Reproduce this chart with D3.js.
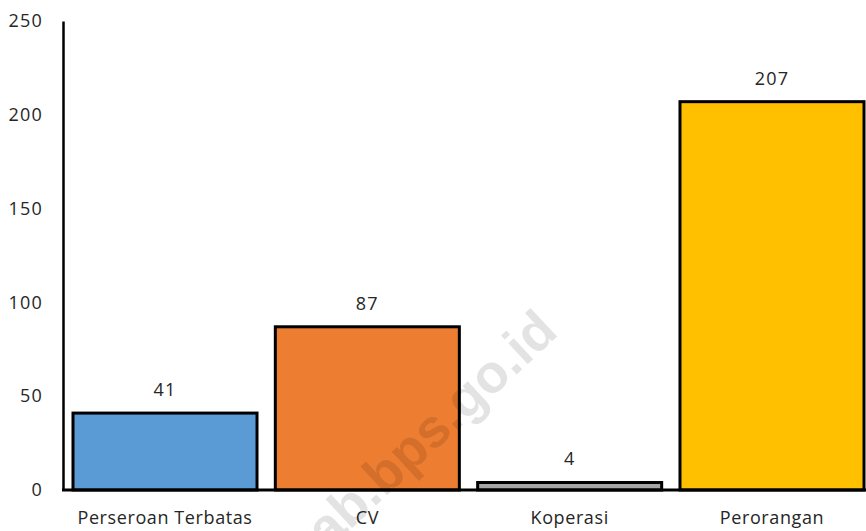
<!DOCTYPE html>
<html><head><meta charset="utf-8">
<script src="https://cdn.jsdelivr.net/npm/d3@7"></script>
<style>body{margin:0;background:#fff}svg{display:block}text{font-family:"Open Sans",Lato,sans-serif}</style>
</head><body><svg id="c" width="866" height="531"></svg>
<script>
const categories = ["Perseroan Terbatas","CV","Koperasi","Perorangan"];
const values = [41,87,4,207];
const colors = ["#5b9bd5","#ed7d31","#a5a5a5","#ffc000"];
const yTicks = [0,50,100,150,200,250];

const svg = d3.select("#c");
const x = d3.scaleBand().domain(categories).range([63,874]).paddingInner(0.0905).paddingOuter(0.0494);
const y = d3.scaleLinear().domain([0,250]).range([490,21]);
const FONT = "'Open Sans', Lato, sans-serif";

svg.selectAll("rect.bar").data(values).join("rect").attr("class","bar")
  .attr("x",(d,i)=>x(categories[i])).attr("width",x.bandwidth())
  .attr("y",d=>y(d)).attr("height",d=>y(0)-y(d))
  .attr("fill",(d,i)=>colors[i]).attr("stroke","#000").attr("stroke-width",3);

svg.selectAll("text.val").data(values).join("text").attr("class","val")
  .attr("x",(d,i)=>x(categories[i])+x.bandwidth()/2).attr("y",d=>y(d)-17)
  .attr("text-anchor","middle").attr("font-size",18).attr("letter-spacing",1.2)
  .attr("fill","#262626").style("font-family",FONT).text(d=>d);

const yAxis = d3.axisLeft(y).tickValues(yTicks).tickSize(0).tickPadding(20);
const gy = svg.append("g").attr("transform","translate(63,0)").call(yAxis);
gy.select(".domain").attr("stroke","#000").attr("stroke-width",2.5);
gy.selectAll("text").attr("font-size",18).attr("letter-spacing",1.2).attr("fill","#262626").style("font-family",FONT);

const xAxis = d3.axisBottom(x).tickSize(0).tickPadding(21);
const gx = svg.append("g").attr("transform","translate(0,490)").call(xAxis);
gx.select(".domain").attr("stroke","#000").attr("stroke-width",3).attr("d","M62,0H866");
gx.selectAll("text").attr("font-size",18).attr("letter-spacing",0.6).attr("fill","#262626").style("font-family",FONT);

// watermark (semi-transparent, on top)
svg.append("text").attr("transform","translate(560,334) rotate(-43)")
  .attr("text-anchor","end").attr("font-size",54).attr("font-weight","bold")
  .attr("fill","#000").attr("fill-opacity",0.11).style("font-family","Liberation Sans, Arial, sans-serif")
  .text("kab.bps.go.id");
</script></body></html>
